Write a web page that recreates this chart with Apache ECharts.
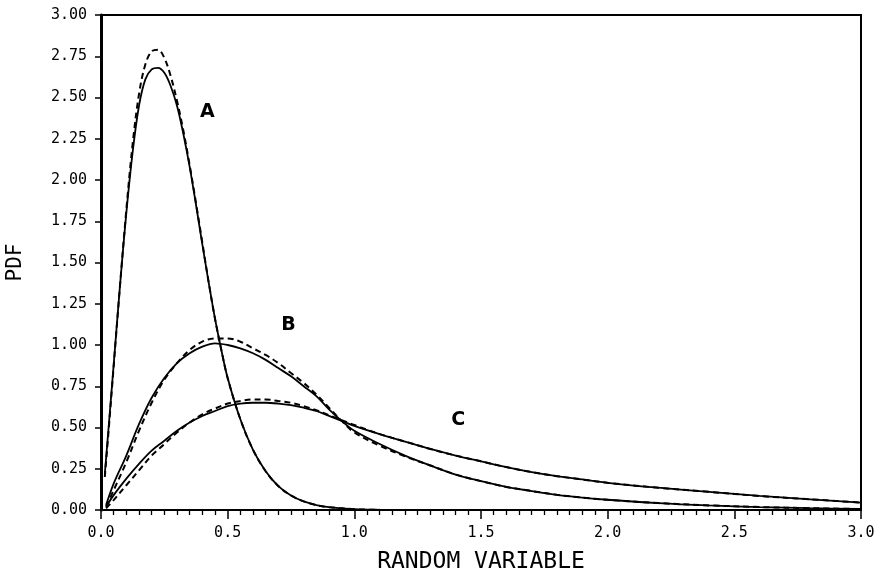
<!DOCTYPE html>
<html>
<head>
<meta charset="utf-8">
<script src="https://cdn.jsdelivr.net/npm/echarts@6/dist/echarts.min.js"></script>
<style>
  html, body { margin: 0; padding: 0; background: #fff; }
  #chart { width: 879px; height: 578px; }
</style>
</head>
<body>
<div id="chart"></div>
<script>
// curve A sampled on its own x grid (narrow peak)
const xA = [0.015, 0.03, 0.05, 0.075, 0.1, 0.125, 0.15, 0.175, 0.2, 0.225,
  0.25, 0.275, 0.3, 0.325, 0.35, 0.375, 0.4, 0.425, 0.45, 0.475,
  0.5, 0.55, 0.6, 0.65, 0.7, 0.75, 0.8, 0.85, 0.9, 1.0, 1.1, 1.2];
const aSolid = [0.22, 0.50, 0.88, 1.36, 1.80, 2.17, 2.45, 2.61, 2.67, 2.68,
  2.65, 2.57, 2.45, 2.28, 2.08, 1.85, 1.61, 1.38, 1.16, 0.97,
  0.80, 0.55, 0.365, 0.235, 0.145, 0.088, 0.052, 0.03, 0.017, 0.005, 0.001, 0];
const aDashed = [0.20, 0.48, 0.87, 1.36, 1.82, 2.22, 2.52, 2.70, 2.78, 2.79,
  2.74, 2.63, 2.48, 2.30, 2.09, 1.86, 1.62, 1.38, 1.16, 0.97,
  0.80, 0.55, 0.365, 0.235, 0.145, 0.088, 0.052, 0.03, 0.017, 0.005, 0.001, 0];

// curves B and C share this grid
const xBC = [0.02, 0.05, 0.1, 0.15, 0.2, 0.25, 0.3, 0.35, 0.4, 0.45,
  0.5, 0.55, 0.6, 0.65, 0.7, 0.75, 0.8, 0.85, 0.9, 0.95,
  1.0, 1.1, 1.2, 1.3, 1.4, 1.5, 1.6, 1.7, 1.8, 1.9,
  2.0, 2.2, 2.4, 2.6, 2.8, 3.0];
const bSolid = [0.03, 0.16, 0.33, 0.52, 0.68, 0.80, 0.89, 0.95, 0.99, 1.01,
  1.00, 0.98, 0.95, 0.91, 0.86, 0.81, 0.75, 0.69, 0.61, 0.54,
  0.48, 0.40, 0.33, 0.27, 0.215, 0.175, 0.14, 0.115, 0.092, 0.075,
  0.062, 0.042, 0.028, 0.018, 0.011, 0.006];
const bDashed = [0.02, 0.12, 0.29, 0.48, 0.65, 0.79, 0.89, 0.97, 1.02, 1.04,
  1.04, 1.02, 0.98, 0.94, 0.89, 0.83, 0.77, 0.70, 0.62, 0.54,
  0.47, 0.39, 0.325, 0.27, 0.215, 0.175, 0.14, 0.115, 0.092, 0.075,
  0.062, 0.042, 0.028, 0.018, 0.011, 0.006];
const cSolid = [0.02, 0.09, 0.19, 0.28, 0.36, 0.42, 0.48, 0.53, 0.57, 0.60,
  0.63, 0.645, 0.65, 0.65, 0.645, 0.635, 0.62, 0.60, 0.57, 0.54,
  0.51, 0.46, 0.415, 0.37, 0.33, 0.295, 0.26, 0.23, 0.205, 0.185,
  0.165, 0.135, 0.11, 0.085, 0.065, 0.045];
const cDashed = [0.01, 0.06, 0.15, 0.24, 0.33, 0.40, 0.47, 0.53, 0.58, 0.615,
  0.645, 0.66, 0.67, 0.67, 0.66, 0.65, 0.63, 0.605, 0.575, 0.545,
  0.515, 0.46, 0.415, 0.37, 0.33, 0.295, 0.26, 0.23, 0.205, 0.185,
  0.165, 0.135, 0.11, 0.085, 0.065, 0.045];

// curve letters, placed in data coordinates
const labelNames = ["A", "B", "C"];
const labelX = [0.42, 0.74, 1.41];
const labelY = [2.41, 1.12, 0.545];

const mono = "DejaVu Sans Mono";
const pairs = (xs, ys) => xs.map((x, i) => [x, ys[i]]);

function curve(name, xs, ys, dashed) {
  return {
    name: name,
    type: "line",
    data: pairs(xs, ys),
    symbol: "none",
    smooth: 0.35,
    silent: true,
    lineStyle: { color: "#000", width: dashed ? 2 : 1.8, type: dashed ? [6, 4] : "solid" }
  };
}

const chart = echarts.init(document.getElementById("chart"));
chart.setOption({
  animation: false,
  backgroundColor: "#fff",
  grid: {
    left: 101, right: 18, top: 15, bottom: 68,
    containLabel: false,
    outerBoundsMode: "none",
    show: true, borderColor: "#000", borderWidth: 2
  },
  xAxis: {
    type: "value",
    min: 0, max: 3, interval: 0.5,
    name: "RANDOM VARIABLE",
    nameLocation: "middle",
    nameGap: 41,
    nameTextStyle: { fontFamily: mono, fontSize: 23, color: "#000" },
    axisLine: { lineStyle: { color: "#000", width: 2 } },
    axisTick: { show: true, length: 9, lineStyle: { color: "#000", width: 1.5 } },
    minorTick: { show: true, splitNumber: 10, length: 5, lineStyle: { color: "#000", width: 1.3 } },
    axisLabel: {
      margin: 16, fontFamily: mono, fontSize: 15, color: "#000",
      formatter: v => v.toFixed(1)
    },
    splitLine: { show: false }
  },
  yAxis: {
    type: "value",
    min: 0, max: 3, interval: 0.25,
    name: "PDF",
    nameLocation: "middle",
    nameGap: 75,
    nameTextStyle: { fontFamily: mono, fontSize: 21, color: "#000" },
    axisLine: { lineStyle: { color: "#000", width: 3 } },
    axisTick: { show: true, length: 6, lineStyle: { color: "#000", width: 1.5 } },
    axisLabel: {
      margin: 14, fontFamily: mono, fontSize: 15, color: "#000",
      formatter: v => v.toFixed(2)
    },
    splitLine: { show: false }
  },
  series: [
    curve("A", xA, aSolid, false),
    curve("A dashed", xA, aDashed, true),
    curve("B", xBC, bSolid, false),
    curve("B dashed", xBC, bDashed, true),
    curve("C", xBC, cSolid, false),
    curve("C dashed", xBC, cDashed, true),
    {
      name: "labels",
      type: "scatter",
      symbolSize: 0,
      silent: true,
      itemStyle: { opacity: 1, color: "#000" },
      data: labelNames.map((n, i) => ({ name: n, value: [labelX[i], labelY[i]] })),
      label: {
        show: true,
        position: [0, 0],
        align: "center",
        verticalAlign: "middle",
        formatter: p => p.name,
        fontFamily: "DejaVu Sans",
        fontWeight: "bold",
        fontSize: 19,
        color: "#000",
        opacity: 1,
        textBorderWidth: 0
      }
    }
  ]
});
</script>
</body>
</html>
